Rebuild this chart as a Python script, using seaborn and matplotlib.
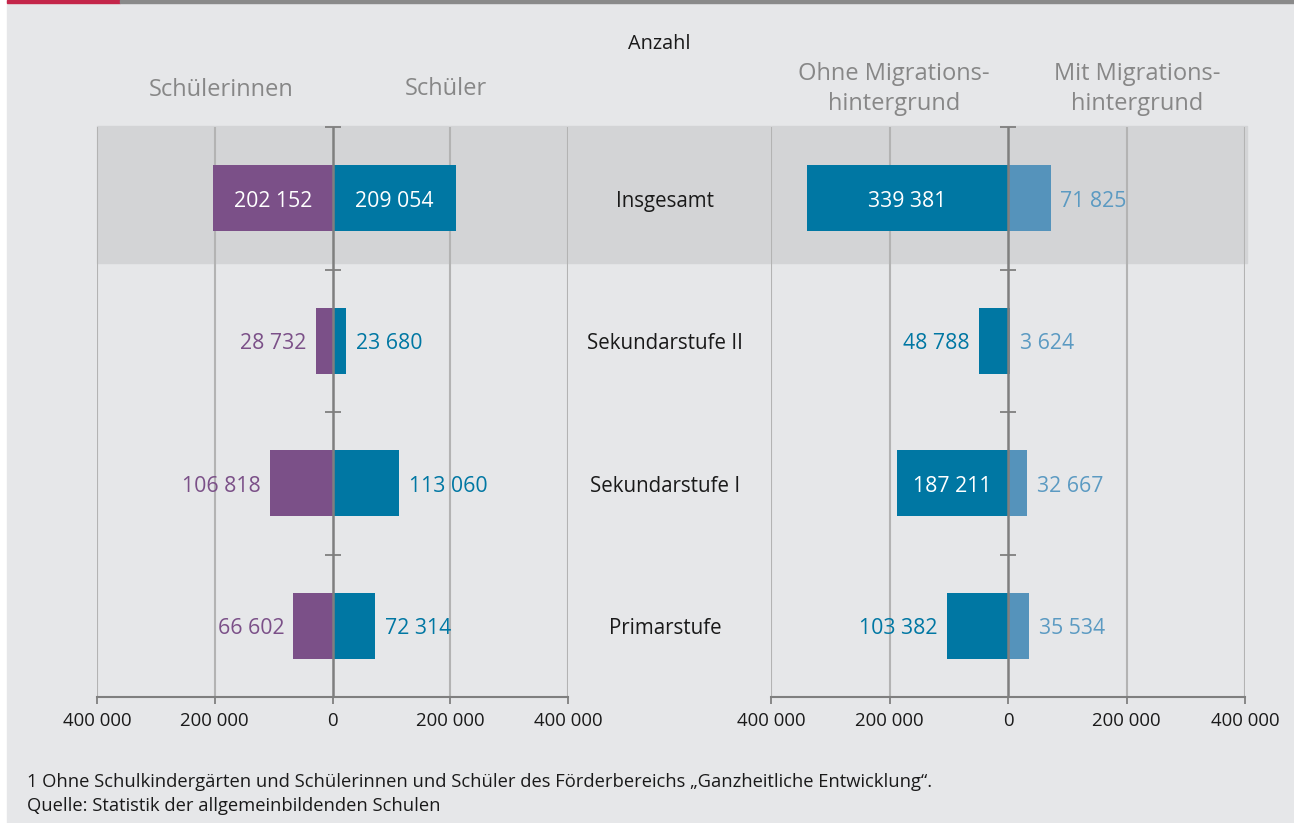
import numpy as np
import pandas as pd
import matplotlib
matplotlib.use("Agg")
from matplotlib import pyplot as plt
from matplotlib import transforms
from matplotlib.patches import Rectangle
import seaborn as sns

### data ###
stufen = ["Insgesamt", "Sekundarstufe II", "Sekundarstufe I", "Primarstufe"]
schuelerinnen = [202152, 28732, 106818, 66602]
schueler = [209054, 23680, 113060, 72314]
ohne_migration = [339381, 48788, 187211, 103382]
mit_migration = [71825, 3624, 32667, 35534]
ticks = [-400000, -200000, 0, 200000, 400000]

PURPLE = "#7B5088"
TEAL = "#0077A3"
LIGHT = "#5593BB"
LIGHT_TXT = "#5B9AC2"
BG = "#E6E7E9"
BAND = "#D3D4D6"
GRID = "#B3B3B3"
AXIS = "#7F7F7F"
HEAD = "#878787"
DARK = "#1A1A1A"
VAL_FS = 15.3

sns.set_theme(style="white")
plt.rcParams["font.family"] = ["Open Sans", "DejaVu Sans"]

W, H = 1294, 823
fig = plt.figure(figsize=(W / 100, H / 100), dpi=100, facecolor="white")

def fx(px):
    return px / W

def fy(py):
    return 1 - py / H

# background, top rule and highlight band
fig.patches.append(Rectangle((fx(7), 0), 1 - fx(7), 1, transform=fig.transFigure,
                             color=BG, zorder=-10))
fig.patches.append(Rectangle((fx(7), fy(3)), fx(113), fy(0) - fy(3), transform=fig.transFigure,
                             color="#C4264A", zorder=-9))
fig.patches.append(Rectangle((fx(120), fy(3)), 1 - fx(120), fy(0) - fy(3), transform=fig.transFigure,
                             color="#8A8A8A", zorder=-9))
fig.patches.append(Rectangle((fx(97), fy(263)), fx(1247 - 97), fy(126) - fy(263),
                             transform=fig.transFigure, color=BAND, zorder=-8))


def fmt(v):
    return f"{abs(int(round(v))):,}".replace(",", " ")


def panel(ax, left_vals, right_vals, left_col, right_col, left_txt, right_txt, inside_left, inside_right):
    df = pd.DataFrame({
        "Stufe": stufen * 2,
        "Wert": [-v for v in left_vals] + list(right_vals),
        "Gruppe": ["L"] * len(stufen) + ["R"] * len(stufen),
    })
    sns.barplot(data=df, y="Stufe", x="Wert", hue="Gruppe", order=stufen,
                palette={"L": left_col, "R": right_col}, dodge=False, width=0.46,
                saturation=1, linewidth=0, orient="h", legend=False, ax=ax, zorder=3)
    ax.patch.set_visible(False)
    ax.set_xlim(-400000, 400000)
    ax.set_ylim(3.5, -0.5)
    ax.set_xlabel("")
    ax.set_ylabel("")
    ax.set_yticks([])
    ax.set_xticks(ticks)
    ax.set_xticklabels([fmt(t) for t in ticks])
    ax.tick_params(axis="x", length=5, width=1.3, color=AXIS, labelsize=13.4,
                   labelcolor=DARK, pad=6, direction="out", bottom=True)
    for s in ["top", "left", "right"]:
        ax.spines[s].set_visible(False)
    ax.spines["bottom"].set_color(AXIS)
    ax.spines["bottom"].set_linewidth(1.5)
    for t in ticks:
        if t == 0:
            ax.axvline(0, color=AXIS, lw=1.8, zorder=4)
        else:
            ax.axvline(t, color=GRID, lw=1.5, zorder=1)
    # small marks on the zero line between categories
    ax.plot([0] * 4, [-0.5, 0.5, 1.5, 2.5], ls="none", marker="_", ms=11,
            mew=1.3, color=AXIS, zorder=5, clip_on=False)

    for i, (lv, rv) in enumerate(zip(left_vals, right_vals)):
        if inside_left[i]:
            ax.annotate(fmt(lv), (-lv / 2, i), xytext=(0, -2.2), textcoords="offset points",
                        color="white", ha="center", va="center", fontsize=VAL_FS, zorder=6)
        else:
            ax.annotate(fmt(lv), (-lv, i), xytext=(-6.5, -2.2), textcoords="offset points",
                        color=left_txt, ha="right", va="center", fontsize=VAL_FS, zorder=6)
        if inside_right[i]:
            ax.annotate(fmt(rv), (rv / 2, i), xytext=(0, -2.2), textcoords="offset points",
                        color="white", ha="center", va="center", fontsize=VAL_FS, zorder=6)
        else:
            ax.annotate(fmt(rv), (rv, i), xytext=(7, -2.2), textcoords="offset points",
                        color=right_txt, ha="left", va="center", fontsize=VAL_FS, zorder=6)


ax1 = fig.add_axes([fx(97), fy(697), fx(568 - 97), fy(127) - fy(697)])
ax2 = fig.add_axes([fx(771), fy(697), fx(1245 - 771), fy(127) - fy(697)])

panel(ax1, schuelerinnen, schueler, PURPLE, TEAL, PURPLE, TEAL,
      [True, False, False, False], [True, False, False, False])
panel(ax2, ohne_migration, mit_migration, TEAL, LIGHT, TEAL, LIGHT_TXT,
      [True, False, True, False], [False, False, False, False])

# category labels between the panels
tr = transforms.offset_copy(transforms.blended_transform_factory(fig.transFigure, ax1.transData),
                            fig=fig, y=-2.2, units="points")
for i, s in enumerate(stufen):
    fig.text(fx(665), i, s, transform=tr, ha="center", va="center",
             fontsize=14.8, color=DARK)

# headers
fig.text(fx(659), fy(44), "Anzahl", ha="center", va="center", fontsize=14.3, color=DARK)
fig.text(fx(221), fy(90), "Schülerinnen", ha="center", va="center", fontsize=17, color=HEAD)
fig.text(fx(446), fy(89), "Schüler", ha="center", va="center", fontsize=17, color=HEAD)
fig.text(fx(894), fy(89), "Ohne Migrations-\nhintergrund", ha="center", va="center",
         fontsize=17, color=HEAD, linespacing=1.3)
fig.text(fx(1137), fy(89), "Mit Migrations-\nhintergrund", ha="center", va="center",
         fontsize=17, color=HEAD, linespacing=1.3)

# footnote
fig.text(fx(27), fy(782), "1 Ohne Schulkindergärten und Schülerinnen und Schüler des Förderbereichs "
         "„Ganzheitliche Entwicklung“.", ha="left", va="center", fontsize=13.2, color=DARK)
fig.text(fx(27), fy(806), "Quelle: Statistik der allgemeinbildenden Schulen", ha="left",
         va="center", fontsize=13.2, color=DARK)

fig.savefig("out.png", dpi=100, facecolor=fig.get_facecolor())
